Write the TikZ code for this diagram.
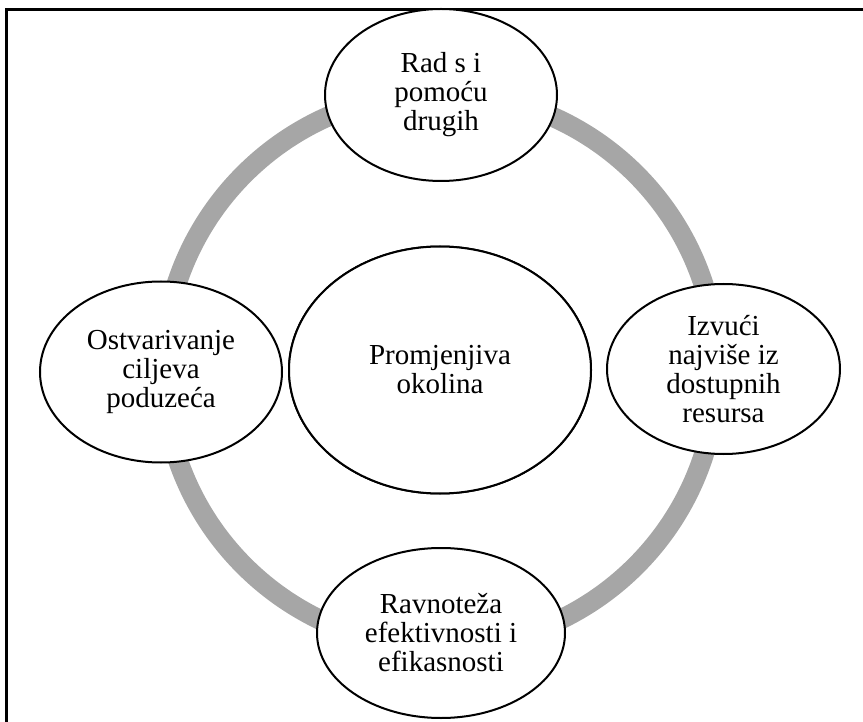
\documentclass[tikz,border=0pt]{standalone}
\usepackage{fontspec}
\setmainfont{Liberation Serif}
\usetikzlibrary{shapes.geometric}
\definecolor{ringgray}{RGB}{166,166,166}

\begin{document}
\begin{tikzpicture}[x=1pt,y=-1pt,
		bubble/.style={draw=black,line width=2pt,fill=white,ellipse,inner sep=0pt,
			align=center,font=\fontsize{29}{29}\selectfont},
		ring/.style={draw=ringgray,line width=20pt}]
	\useasboundingbox (0,0) rectangle (863,722);
	% frame (left and top edges only)
	\draw[line width=3pt] (6.5,722) -- (6.5,9.5) -- (863,9.5);
	% centre and gray ring
	\node[bubble,minimum width=302pt,minimum height=247pt] (okolina) at (440,370) {Promjenjiva\\okolina};
	\draw[ring] (okolina.center) circle[radius=277];
	\node[bubble,minimum width=302pt,minimum height=247pt] at (okolina) {Promjenjiva\\okolina};
	% four bubbles on the ring
	\node[bubble,minimum width=232pt,minimum height=172pt] (rad) at (441,95) {Rad s i\\pomoću\\drugih};
	\node[bubble,minimum width=233pt,minimum height=170pt] (resursi) at (723.5,369) {Izvući\\najviše iz\\dostupnih\\resursa};
	\node[bubble,minimum width=248pt,minimum height=170pt] (ravnoteza) at (441,633) {Ravnoteža\\efektivnosti i\\efikasnosti};
	\node[bubble,minimum width=242pt,minimum height=181pt] (ciljevi) at (161,372) {Ostvarivanje\\ciljeva\\poduzeća};
\end{tikzpicture}
\end{document}
